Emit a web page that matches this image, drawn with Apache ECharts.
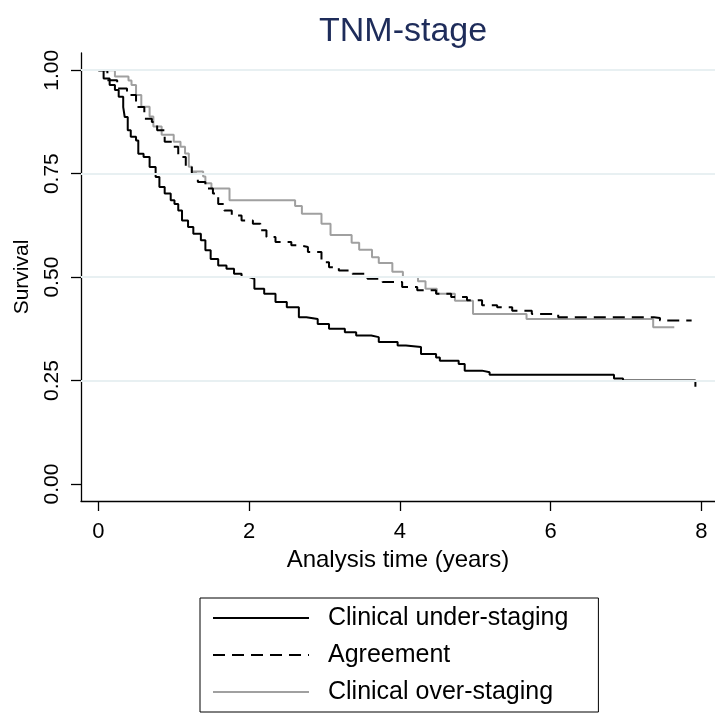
<!DOCTYPE html>
<html>
<head>
<meta charset="utf-8">
<script src="https://cdn.jsdelivr.net/npm/echarts@6/dist/echarts.min.js"></script>
<style>
  html, body { margin: 0; padding: 0; background: #fff; }
  #chart { width: 715px; height: 713px; }
</style>
</head>
<body>
<div id="chart"></div>
<script>
// Kaplan-Meier estimates: [time in years, survival]
var underStaging = [
  [0, 1.0], [0.07, 0.98], [0.15, 0.964], [0.22, 0.952], [0.27, 0.936], [0.33, 0.911],
  [0.35, 0.887], [0.39, 0.855], [0.43, 0.839], [0.50, 0.83], [0.53, 0.798], [0.60, 0.79],
  [0.68, 0.766], [0.76, 0.742], [0.81, 0.718], [0.88, 0.702], [0.96, 0.686], [1.01, 0.677],
  [1.06, 0.661], [1.11, 0.637], [1.19, 0.621], [1.26, 0.605], [1.36, 0.589], [1.42, 0.565],
  [1.49, 0.544], [1.59, 0.528], [1.70, 0.52], [1.80, 0.508], [1.90, 0.50], [2.00, 0.496],
  [2.07, 0.472], [2.20, 0.46], [2.35, 0.44], [2.50, 0.427], [2.66, 0.403], [2.76, 0.399],
  [2.91, 0.387], [3.06, 0.375], [3.27, 0.367], [3.42, 0.359], [3.62, 0.355], [3.72, 0.343],
  [3.97, 0.335], [4.08, 0.331], [4.28, 0.314], [4.48, 0.306], [4.53, 0.298], [4.78, 0.29],
  [4.86, 0.274], [5.09, 0.27], [5.19, 0.264], [6.84, 0.255], [6.96, 0.25], [7.92, 0.235]
];
var agreement = [
  [0, 1.0], [0.12, 0.976], [0.25, 0.956], [0.38, 0.94], [0.50, 0.911], [0.61, 0.883],
  [0.71, 0.875], [0.78, 0.855], [0.88, 0.827], [0.99, 0.815], [1.06, 0.79], [1.16, 0.766],
  [1.24, 0.75], [1.32, 0.73], [1.42, 0.714], [1.52, 0.702], [1.59, 0.677], [1.67, 0.661],
  [1.77, 0.649], [1.90, 0.637], [2.05, 0.629], [2.15, 0.613], [2.23, 0.597], [2.35, 0.585],
  [2.56, 0.577], [2.66, 0.573], [2.78, 0.561], [2.96, 0.536], [3.06, 0.524], [3.19, 0.516],
  [3.37, 0.508], [3.57, 0.496], [3.77, 0.488], [4.03, 0.476], [4.23, 0.468], [4.48, 0.46],
  [4.68, 0.452], [4.89, 0.444], [5.09, 0.432], [5.29, 0.427], [5.49, 0.419], [5.75, 0.411],
  [6.10, 0.403], [7.37, 0.401], [7.45, 0.395], [7.87, 0.395]
];
var overStaging = [
  [0, 1.0], [0.22, 0.985], [0.40, 0.975], [0.44, 0.964], [0.50, 0.94], [0.57, 0.912],
  [0.68, 0.888], [0.73, 0.864], [0.84, 0.844], [1.00, 0.827], [1.09, 0.815], [1.15, 0.799],
  [1.20, 0.767], [1.24, 0.755], [1.39, 0.743], [1.42, 0.727], [1.50, 0.714], [1.74, 0.686],
  [2.61, 0.672], [2.70, 0.653], [2.96, 0.629], [3.08, 0.602], [3.36, 0.583], [3.46, 0.566],
  [3.63, 0.548], [3.72, 0.534], [3.90, 0.513], [4.04, 0.50], [4.24, 0.49], [4.34, 0.472],
  [4.49, 0.46], [4.73, 0.443], [4.97, 0.411], [5.68, 0.399], [7.36, 0.379], [7.64, 0.379]
];
var seriesNames = ['Clinical under-staging', 'Agreement', 'Clinical over-staging'];
var xTicks = [0, 2, 4, 6, 8];
var yTicks = [0, 0.25, 0.5, 0.75, 1];
var yGridLines = [0.25, 0.5, 0.75, 1];

var font = 'Liberation Sans, Arial, sans-serif';

var option = {
  animation: false,
  backgroundColor: '#fff',
  title: {
    text: 'TNM-stage',
    left: 314,
    top: 10,
    textStyle: { color: '#1e2c5a', fontSize: 34, fontWeight: 'normal', fontFamily: font }
  },
  legend: {
    data: seriesNames,
    orient: 'vertical',
    left: 200,
    top: 598,
    padding: [7, 30, 7, 12],
    borderColor: '#000',
    borderWidth: 1,
    itemWidth: 96,
    itemHeight: 14,
    itemGap: 11,
    itemStyle: { opacity: 0 },
    textStyle: { color: '#000', fontSize: 25, lineHeight: 26, fontFamily: font, padding: [0, 0, 0, 14] }
  },
  grid: { left: 81, right: 0, top: 53, bottom: 212, containLabel: false },
  xAxis: {
    type: 'value',
    min: -0.23,
    max: 8.18,
    name: 'Analysis time (years)',
    nameLocation: 'middle',
    nameGap: 45,
    nameTextStyle: { color: '#000', fontSize: 24, fontFamily: font },
    axisLine: { show: true, onZero: false, lineStyle: { color: '#000', width: 1.3 } },
    axisTick: { show: true, length: 10, customValues: xTicks, lineStyle: { color: '#000', width: 1.3 } },
    axisLabel: { customValues: xTicks, color: '#000', fontSize: 22, margin: 20, fontFamily: font },
    splitLine: { show: false }
  },
  yAxis: {
    type: 'value',
    min: -0.041,
    max: 1.0416,
    name: 'Survival',
    nameLocation: 'middle',
    nameGap: 48,
    nameTextStyle: { color: '#000', fontSize: 21, fontFamily: font },
    axisLine: { show: true, onZero: false, lineStyle: { color: '#000', width: 1.3 } },
    axisTick: { show: true, length: 10, customValues: yTicks, lineStyle: { color: '#000', width: 1.3 } },
    axisLabel: {
      customValues: yTicks, rotate: 90, color: '#000', fontSize: 21, margin: 18, fontFamily: font,
      formatter: function (v) { return v.toFixed(2); }
    },
    splitLine: { show: false }
  },
  series: [
    {
      name: 'gridlines',
      type: 'line',
      data: [],
      z: 0,
      silent: true,
      markLine: {
        silent: true,
        symbol: ['none', 'none'],
        label: { show: false },
        lineStyle: { color: '#e8f0f2', type: 'solid', width: 2 },
        data: yGridLines.map(function (v) { return { yAxis: v }; })
      }
    },
    {
      name: seriesNames[0],
      type: 'line',
      step: 'end',
      symbol: 'none',
      z: 4,
      data: underStaging,
      lineStyle: { color: '#000', width: 2 },
      itemStyle: { color: '#000' }
    },
    {
      name: seriesNames[1],
      type: 'line',
      step: 'end',
      symbol: 'none',
      z: 3,
      data: agreement,
      lineStyle: { color: '#000', width: 2, type: [12, 7] },
      itemStyle: { color: '#000' }
    },
    {
      name: seriesNames[2],
      type: 'line',
      step: 'end',
      symbol: 'none',
      z: 2,
      data: overStaging,
      lineStyle: { color: '#a0a0a0', width: 2 },
      itemStyle: { color: '#a0a0a0' }
    }
  ]
};

var chart = echarts.init(document.getElementById('chart'));
chart.setOption(option);
</script>
</body>
</html>
